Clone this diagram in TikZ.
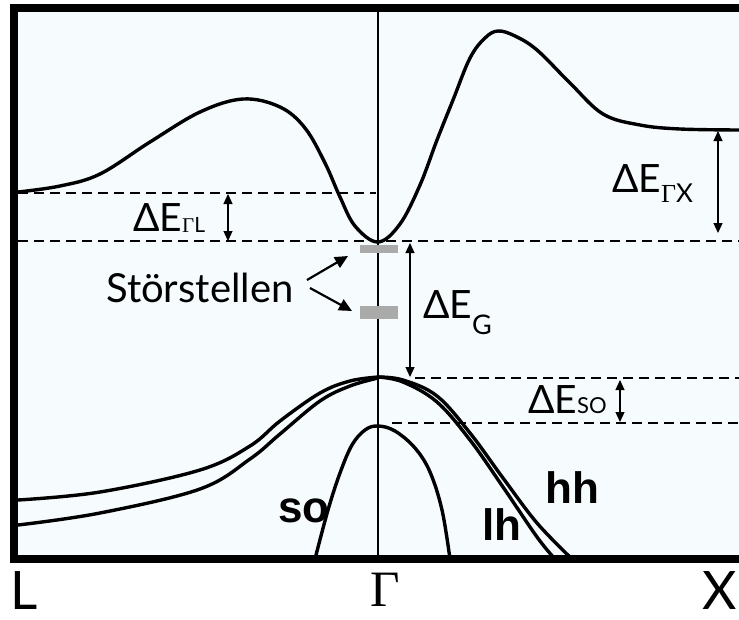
\documentclass[tikz,border=0pt]{standalone}
\usepackage[no-math]{fontspec}
\setmainfont{Lato}
\newfontfamily\labfont{Liberation Sans}
\newfontfamily\serfont{Liberation Serif}
\usetikzlibrary{arrows.meta}
\definecolor{bgblue}{RGB}{246,251,254}
\definecolor{impgray}{RGB}{170,170,170}
\newcommand\fs[1]{\fontsize{#1}{#1}\selectfont}
\newcommand\gam{{\serfont Γ}}
\begin{document}
\begin{tikzpicture}[x=1pt,y=-1pt,
  band/.style={line width=3.4pt, line join=round},
  dashline/.style={line width=1.8pt, dash pattern=on 10pt off 6pt},
  gaparrow/.style={line width=1.2pt, {Triangle[length=10pt,width=9pt]}-{Triangle[length=10pt,width=9pt]}},
  pointer/.style={line width=2.2pt, -{Triangle[length=13pt,width=12pt]}},
  lbl/.style={inner sep=0pt, anchor=base west},
  impurity/.style={fill=impgray, inner sep=0pt, minimum width=38pt}]
\useasboundingbox (0,0) rectangle (739,619);
\fill[white] (0,0) rectangle (739,619);
\fill[bgblue] (14,8) rectangle (739,559);

% Gamma line
\coordinate (gtop) at (378,12);
\coordinate (gbot) at (378,555);
\draw[line width=1.4pt] (gtop) -- (gbot);

% dashed reference levels
\coordinate (dl1a) at (18,193);  \coordinate (dl1b) at (376,193);
\coordinate (dl2a) at (18,241);  \coordinate (dl2b) at (739,241);
\coordinate (dl3a) at (415,378); \coordinate (dl3b) at (739,378);
\coordinate (dl4a) at (392,423); \coordinate (dl4b) at (739,423);
\draw[dashline] (dl1a) -- (dl1b);
\draw[dashline] (dl2a) -- (dl2b);
\draw[dashline] (dl3a) -- (dl3b);
\draw[dashline] (dl4a) -- (dl4b);

% conduction band
\draw[band] plot[smooth, tension=0.6] coordinates {(18,192) (60,186) (100,174) (150,142) (200,112) (243,99) (280,107) (305,128) (325,163) (340,197) (355,226) (378,242) (400,224) (420,185) (437,140) (453,100) (470,58) (485,38) (498,31) (515,36) (537,50) (570,83) (603,114) (640,125) (680,129) (739,130)};

% valence bands, left side
\draw[band] plot[smooth, tension=0.6] coordinates {(18,500) (100,492) (200,470) (250,446) (280,421) (320,393) (350,381) (378,377)};
\draw[band] plot[smooth, tension=0.6] coordinates {(18,525) (100,513) (200,489) (250,459) (280,434) (320,401) (350,386) (378,378)};
% valence bands, right side
\draw[band] plot[smooth, tension=0.6] coordinates {(378,377) (403,382) (437,402) (470,440) (503,487) (537,537) (555,559)};
\draw[band] plot[smooth, tension=0.6] coordinates {(378,377) (403,380) (437,396) (470,433) (503,478) (537,523) (572,559)};
% split-off band
\draw[band] plot[smooth, tension=0.6] coordinates {(315,559) (328,510) (340,473) (352,445) (365,430) (378,426) (395,431) (415,448) (430,472) (442,510) (450,559)};

% impurity levels
\node[impurity, minimum height=8pt] (imp1) at (379,249) {};
\node[impurity, minimum height=13pt] (imp2) at (379,312.5) {};

% energy gap arrows
\coordinate (gl1) at (228,194); \coordinate (gl2) at (228,241);
\draw[gaparrow] (gl1) -- (gl2);
\coordinate (gx1) at (718,131); \coordinate (gx2) at (718,233);
\draw[gaparrow] (gx1) -- (gx2);
\coordinate (gg1) at (410,243); \coordinate (gg2) at (410,377);
\draw[gaparrow] (gg1) -- (gg2);
\coordinate (gs1) at (620,380); \coordinate (gs2) at (620,422);
\draw[gaparrow] (gs1) -- (gs2);

% labels
\node[lbl] (dEGL) at (133,231) {\fs{39}ΔE\raisebox{-1pt}{\fs{21}\gam L}};
\node[lbl] (dEGX) at (612,192) {\fs{39}ΔE\raisebox{-10pt}{\fs{26}\gam X}};
\node[lbl] (dEG) at (423,318) {\fs{39}ΔE\raisebox{-16pt}{\fs{27}G}};
\node[lbl] (dESO) at (528,413) {\fs{39}ΔE{\fs{22}SO}};
\node[lbl] (stoer) at (106,302) {\fs{40}Störstellen};

% pointers to impurities
\coordinate (p1s) at (307,280); \coordinate (p1e) at (348,256);
\coordinate (p2s) at (310,288); \coordinate (p2e) at (352,311);
\draw[pointer] (p1s) -- (p1e);
\draw[pointer] (p2s) -- (p2e);

\node[lbl] (so) at (278,522) {\labfont\bfseries\fs{44}so};
\node[lbl] (lh) at (482,540) {\labfont\bfseries\fs{44}lh};
\node[lbl] (hh) at (545,503) {\labfont\bfseries\fs{44}hh};

% axis labels
\node[lbl] (kL) at (10,609) {\fs{53}L};
\node[inner sep=0pt, anchor=base] (kG) at (385,606) {\fs{51}\gam};
\node[inner sep=0pt, anchor=base east] (kX) at (737,609) {\fs{53}X};

% frame
\draw[line width=8pt] (739,8) -- (14,8) -- (14,559) -- (739,559);
\end{tikzpicture}
\end{document}
